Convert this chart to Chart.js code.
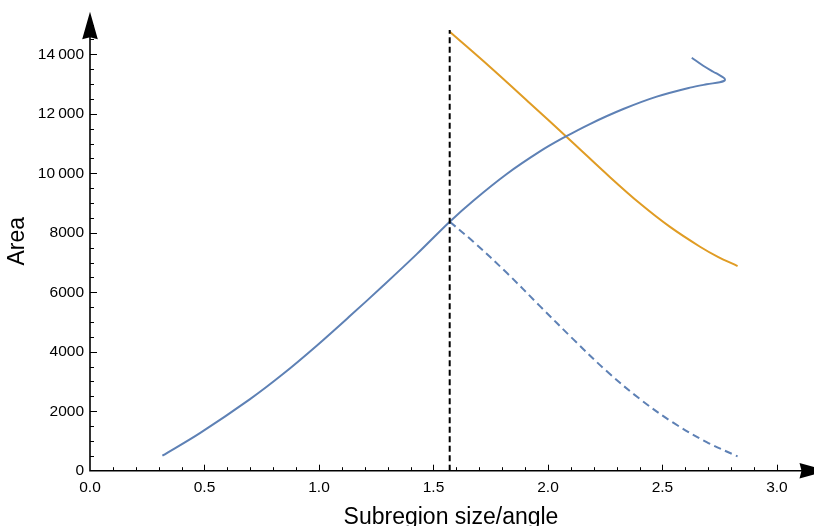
<!DOCTYPE html>
<html>
<head>
<meta charset="utf-8">
<script src="https://cdn.jsdelivr.net/npm/chart.js@4.4.1/dist/chart.umd.min.js"></script>
<style>
  html, body { margin: 0; padding: 0; background: #fff; }
  #wrap { width: 814px; height: 526px; }
</style>
</head>
<body>
<div id="wrap"><canvas id="chart" width="814" height="526"></canvas></div>
<script>
// area curve (solid blue), it curls back at the end
const blueX = [0.316, 0.480, 0.699, 0.844, 0.990, 1.135, 1.281, 1.427, 1.571, 1.674, 1.820, 1.965, 2.064, 2.183, 2.329, 2.475, 2.620, 2.693, 2.750, 2.768, 2.773, 2.766, 2.745, 2.722, 2.678, 2.628];
const blueY = [504, 1264, 2407, 3258, 4203, 5198, 6227, 7282, 8372, 9078, 9976, 10735, 11179, 11657, 12161, 12578, 12881, 12992, 13062, 13104, 13153, 13220, 13318, 13415, 13617, 13886];

// mirrored part (dashed blue)
const dashX = [1.571, 1.674, 1.820, 1.965, 2.111, 2.256, 2.402, 2.547, 2.693, 2.828];
const dashY = [8372, 7700, 6654, 5534, 4415, 3349, 2407, 1614, 962, 481];

// orange curve
const orangeX = [1.571, 1.747, 1.921, 2.096, 2.271, 2.402, 2.533, 2.664, 2.742, 2.828];
const orangeY = [14760, 13576, 12359, 11122, 9871, 8984, 8197, 7531, 7192, 6882];

// vertical marker at pi/2
const markX = [Math.PI / 2, Math.PI / 2];
const markY = [0, 14818];

const xMax = 3.153;
const yMax = 15434;
const yStep = 500;

const BLUE = '#5E81B5';
const ORANGE = '#E09C24';
const FONT = 'Liberation Sans, Arial, Helvetica, sans-serif';

const toPts = (xs, ys) => xs.map((x, i) => ({ x: x, y: ys[i] }));

function arrowHead(ctx, tipX, tipY, dx, dy) {
  // dx,dy = unit direction of the arrow
  const len = 27.5, half = 7.8, notch = 2;
  const bx = tipX - dx * len, by = tipY - dy * len;
  const nx = -dy, ny = dx;
  ctx.beginPath();
  ctx.moveTo(tipX, tipY);
  ctx.lineTo(bx + nx * half, by + ny * half);
  ctx.lineTo(bx + dx * notch, by + dy * notch);
  ctx.lineTo(bx - nx * half, by - ny * half);
  ctx.closePath();
  ctx.fill();
}

// keep the plot box where the picture has it, whatever the labels want
function noPad(s) {
  s.paddingLeft = 0;
  s.paddingRight = 0;
  s.paddingTop = 0;
  s.paddingBottom = 0;
}

const axesPlugin = {
  id: 'mmaAxes',
  afterDatasetsDraw(chart) {
    const { ctx, chartArea: a, scales: { x, y } } = chart;
    ctx.save();
    ctx.strokeStyle = '#000';
    ctx.fillStyle = '#000';

    // tick marks, pointing into the plot
    ctx.lineWidth = 1;
    x.ticks.forEach(t => {
      const k = t.value * 10;
      if (Math.abs(k - Math.round(k)) > 1e-6 || t.value === 0) return;
      const px = Math.round(x.getPixelForValue(t.value)) + 0.5;
      const len = Math.round(k) % 5 === 0 ? 6 : 3.5;
      ctx.beginPath();
      ctx.moveTo(px, a.bottom);
      ctx.lineTo(px, a.bottom - len);
      ctx.stroke();
    });
    y.ticks.forEach(t => {
      if (t.value === 0) return;
      const py = Math.round(y.getPixelForValue(t.value)) + 0.5;
      const len = t.value % 2000 === 0 ? 7 : 4;
      ctx.beginPath();
      ctx.moveTo(a.left, py);
      ctx.lineTo(a.left + len, py);
      ctx.stroke();
    });

    // axis lines with arrows
    const tipX = a.right + 15;
    ctx.lineWidth = 1.6;
    ctx.beginPath();
    ctx.moveTo(a.left - 0.8, a.bottom);
    ctx.lineTo(tipX - 20, a.bottom);
    ctx.moveTo(a.left, a.bottom + 0.8);
    ctx.lineTo(a.left, a.top + 20);
    ctx.stroke();
    arrowHead(ctx, tipX, a.bottom, 1, 0);
    arrowHead(ctx, a.left, a.top, 0, -1);
    ctx.restore();
  }
};

new Chart(document.getElementById('chart'), {
  type: 'scatter',
  data: {
    datasets: [
      { data: toPts(markX, markY), showLine: true, borderColor: '#000', borderWidth: 2, borderDash: [6, 3.5] },
      { data: toPts(blueX, blueY), showLine: true, borderColor: BLUE, borderWidth: 2, tension: 0.35 },
      { data: toPts(dashX, dashY), showLine: true, borderColor: BLUE, borderWidth: 2, borderDash: [7.5, 4.5], tension: 0.35 },
      { data: toPts(orangeX, orangeY), showLine: true, borderColor: ORANGE, borderWidth: 2, tension: 0.35 }
    ]
  },
  options: {
    responsive: false,
    animation: false,
    devicePixelRatio: 1,
    layout: { padding: { top: 11.7, right: 2, left: 0, bottom: 0 } },
    elements: { point: { radius: 0, hoverRadius: 0 } },
    plugins: { legend: { display: false }, tooltip: { enabled: false } },
    scales: {
      x: {
        type: 'linear',
        min: 0,
        max: xMax,
        grid: { display: false, drawTicks: false },
        border: { display: false },
        ticks: {
          stepSize: 0.1,
          autoSkip: false,
          maxRotation: 0,
          minRotation: 0,
          padding: 8,
          color: '#000',
          font: { family: FONT, size: 15.5 },
          callback: v => {
            const k = Math.round(v * 10);
            if (Math.abs(v * 10 - k) > 1e-6 || k % 5 !== 0) return '';
            return (k / 10).toFixed(1);
          }
        },
        title: {
          display: true,
          text: 'Subregion size/angle',
          color: '#000',
          font: { family: FONT, size: 23, lineHeight: 1 },
          padding: { top: 0, bottom: -3 }
        },
        afterFit: s => { s.height = 55.3; noPad(s); }
      },
      y: {
        type: 'linear',
        min: 0,
        max: yMax,
        grid: { display: false, drawTicks: false },
        border: { display: false },
        ticks: {
          autoSkip: false,
          padding: 6,
          color: '#000',
          font: { family: FONT, size: 15.5 },
          callback: v => {
            if (v % 2000 !== 0) return '';
            if (v >= 10000) return Math.floor(v / 1000) + '\u2009' + String(v % 1000).padStart(3, '0');
            return String(v);
          }
        },
        // fixed 500 steps; the stock generator would stretch them to fit yMax
        afterBuildTicks: s => {
          const t = [];
          for (let v = 0; v <= yMax; v += yStep) t.push({ value: v });
          s.ticks = t;
        },
        title: {
          display: true,
          text: 'Area',
          color: '#000',
          font: { family: FONT, size: 23, lineHeight: 1 },
          padding: { top: 6, bottom: 0 }
        },
        afterFit: s => { s.width = 90; noPad(s); }
      }
    }
  },
  plugins: [axesPlugin]
});
</script>
</body>
</html>
